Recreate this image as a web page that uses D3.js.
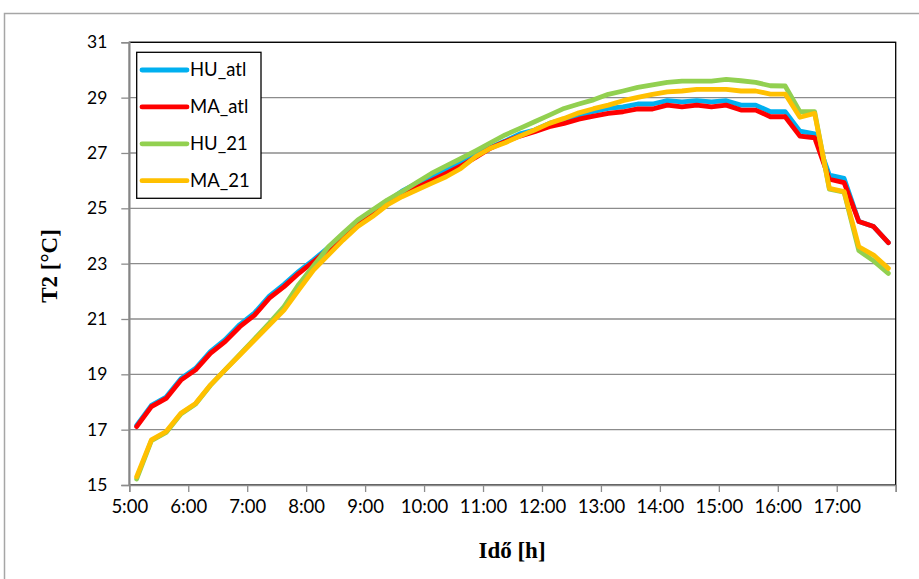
<!DOCTYPE html>
<html>
<head>
<meta charset="utf-8">
<script src="https://cdn.jsdelivr.net/npm/d3@7"></script>
<style>
  body { margin: 0; background: #fff; }
  svg { display: block; }
</style>
</head>
<body>
<svg width="919" height="579"></svg>
<script>
// 15-minute slots from 5:00 to 17:45
var slots = ['5:00','5:15','5:30','5:45','6:00','6:15','6:30','6:45','7:00','7:15','7:30','7:45',
  '8:00','8:15','8:30','8:45','9:00','9:15','9:30','9:45','10:00','10:15','10:30','10:45',
  '11:00','11:15','11:30','11:45','12:00','12:15','12:30','12:45','13:00','13:15','13:30','13:45',
  '14:00','14:15','14:30','14:45','15:00','15:15','15:30','15:45','16:00','16:15','16:30','16:45',
  '17:00','17:15','17:30','17:45'];
var hourLabels = ['5:00','6:00','7:00','8:00','9:00','10:00','11:00','12:00','13:00','14:00','15:00','16:00','17:00'];
var yTicks = [15, 17, 19, 21, 23, 25, 27, 29, 31];

var HU_atl = [17.15,17.88,18.18,18.84,19.22,19.82,20.25,20.80,21.22,21.83,22.25,22.72,23.14,23.58,
  24.05,24.45,24.85,25.25,25.62,25.90,26.14,26.41,26.68,26.93,27.20,27.43,27.69,27.83,28.07,28.22,
  28.37,28.50,28.61,28.67,28.77,28.77,28.89,28.85,28.89,28.85,28.89,28.73,28.73,28.49,28.49,27.79,
  27.69,26.20,26.08,24.52,24.34,23.76];
var MA_atl = [17.11,17.83,18.13,18.79,19.16,19.76,20.18,20.72,21.14,21.75,22.17,22.65,23.07,23.52,
  24.00,24.40,24.79,25.18,25.52,25.75,26.00,26.26,26.53,26.84,27.17,27.41,27.61,27.77,27.95,28.07,
  28.22,28.33,28.43,28.49,28.59,28.59,28.73,28.67,28.73,28.67,28.73,28.55,28.55,28.31,28.31,27.61,
  27.55,26.05,25.93,24.52,24.34,23.76];
var HU_21 = [15.22,16.60,16.90,17.57,17.93,18.60,19.16,19.72,20.28,20.85,21.45,22.25,22.92,23.60,
  24.10,24.58,24.94,25.30,25.60,25.93,26.26,26.53,26.80,27.08,27.37,27.65,27.89,28.13,28.37,28.61,
  28.77,28.92,29.12,29.24,29.37,29.46,29.55,29.60,29.60,29.60,29.66,29.61,29.55,29.43,29.42,28.49,
  28.49,25.69,25.58,23.47,23.10,22.65];
var MA_21 = [15.30,16.63,16.93,17.59,17.95,18.61,19.16,19.70,20.24,20.78,21.32,22.05,22.77,23.31,
  23.85,24.34,24.70,25.12,25.42,25.66,25.90,26.14,26.44,26.87,27.17,27.37,27.61,27.83,28.07,28.25,
  28.45,28.60,28.73,28.89,29.01,29.12,29.21,29.24,29.30,29.30,29.30,29.24,29.24,29.13,29.13,28.29,
  28.43,25.72,25.60,23.61,23.31,22.83];

var seriesNames = ['HU_atl', 'MA_atl', 'HU_21', 'MA_21'];
var seriesColors = ['#00b0f0', '#ff0000', '#92d050', '#ffc000'];
var series = [HU_atl, MA_atl, HU_21, MA_21];

var svg = d3.select('svg');
var plotLeft = 129.3, plotRight = 895.7, plotTop = 42.3, plotBottom = 485;

// outer chart frame
svg.append('rect')
  .attr('x', 4.5).attr('y', 13.5)
  .attr('width', 930).attr('height', 590)
  .attr('fill', '#fff').attr('stroke', '#a6a6a6').attr('stroke-width', 1.5);

var x = d3.scaleBand().domain(slots).range([plotLeft, plotRight]);
var y = d3.scaleLinear().domain([15, 31]).range([plotBottom, plotTop]);

// gridlines
svg.append('g')
  .selectAll('line')
  .data(yTicks.slice(1))
  .enter()
  .append('line')
  .attr('x1', plotLeft).attr('x2', plotRight)
  .attr('y1', function (d) { return y(d); })
  .attr('y2', function (d) { return y(d); })
  .attr('stroke', '#8c8c8c').attr('stroke-width', 1.3);

// plot area border
svg.append('rect')
  .attr('x', plotLeft).attr('y', plotTop)
  .attr('width', plotRight - plotLeft).attr('height', plotBottom - plotTop)
  .attr('fill', 'none').attr('stroke', '#000').attr('stroke-width', 1.3);

// y axis
var yAxis = svg.append('g')
  .attr('transform', 'translate(' + plotLeft + ',0)')
  .call(d3.axisLeft(y).tickValues(yTicks).tickSize(8).tickPadding(14));
yAxis.select('.domain').attr('stroke', '#8c8c8c').attr('stroke-width', 1.5);
yAxis.selectAll('.tick line').attr('stroke', '#8c8c8c').attr('stroke-width', 1.3);
yAxis.selectAll('.tick text')
  .attr('font-family', 'Lato, sans-serif').attr('font-size', 17.5).attr('fill', '#000');

// x axis: ticks at every full hour (start of every 4th slot)
var xAxisScale = d3.scaleLinear().domain([0, 13]).range([plotLeft, plotRight]);
var xAxis = svg.append('g')
  .attr('transform', 'translate(0,' + plotBottom + ')')
  .call(d3.axisBottom(xAxisScale)
    .tickValues(d3.range(0, 14))
    .tickSize(7).tickPadding(8)
    .tickFormat(function (d) { return hourLabels[d] || ''; }));
xAxis.select('.domain').attr('stroke', '#8c8c8c').attr('stroke-width', 1.5);
xAxis.selectAll('.tick line').attr('stroke', '#8c8c8c').attr('stroke-width', 1.3);
xAxis.selectAll('.tick text')
  .attr('font-family', 'Lato, sans-serif').attr('font-size', 18.5).attr('fill', '#000');

// lines
var line = d3.line()
  .x(function (d, i) { return x(slots[i]) + x.bandwidth() / 2; })
  .y(function (d) { return y(d); });

svg.append('g')
  .selectAll('path')
  .data(series)
  .enter()
  .append('path')
  .attr('d', line)
  .attr('fill', 'none')
  .attr('stroke', function (d, i) { return seriesColors[i]; })
  .attr('stroke-width', 4.8)
  .attr('stroke-linejoin', 'round')
  .attr('stroke-linecap', 'round');

// legend
var legend = svg.append('g');
legend.append('rect')
  .attr('x', 136.7).attr('y', 52.3)
  .attr('width', 124.3).attr('height', 146)
  .attr('fill', '#fff').attr('stroke', '#000').attr('stroke-width', 1.3);
var item = legend.selectAll('g.item')
  .data(seriesNames)
  .enter()
  .append('g')
  .attr('class', 'item')
  .attr('transform', function (d, i) { return 'translate(0,' + (70 + i * 36.9) + ')'; });
item.append('line')
  .attr('x1', 142).attr('x2', 187)
  .attr('stroke', function (d, i) { return seriesColors[i]; })
  .attr('stroke-width', 4.8).attr('stroke-linecap', 'round');
item.append('text')
  .attr('x', 190).attr('dy', '0.35em')
  .attr('font-family', 'Lato, sans-serif').attr('font-size', 18.5)
  .text(function (d) { return d; });

// axis titles
svg.append('text')
  .attr('transform', 'translate(57,266) rotate(-90)')
  .attr('text-anchor', 'middle')
  .attr('font-family', '"Liberation Serif", serif').attr('font-weight', 'bold').attr('font-size', 23)
  .text('T2 [°C]');
svg.append('text')
  .attr('x', 512).attr('y', 558)
  .attr('text-anchor', 'middle')
  .attr('font-family', '"Liberation Serif", serif').attr('font-weight', 'bold').attr('font-size', 23)
  .text('Idő [h]');
</script>
</body>
</html>
